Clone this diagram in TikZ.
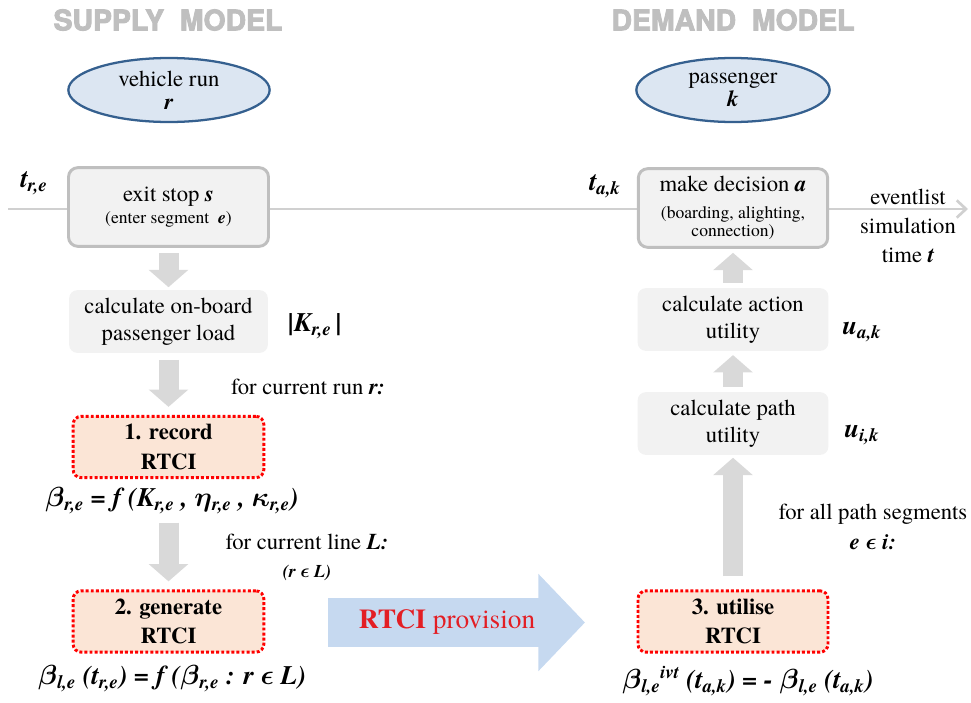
\documentclass[tikz,border=0pt]{standalone}
\usepackage{fontspec}
\setmainfont{texgyretermes-regular.otf}[
  BoldFont=texgyretermes-bold.otf,
  ItalicFont=texgyretermes-italic.otf,
  BoldItalicFont=texgyretermes-bolditalic.otf]
\newfontfamily\headfont{TeX Gyre Heros}[BoldFeatures={FakeBold=3}]
\usepackage{bm}
\usetikzlibrary{shapes,arrows.meta,positioning}

\definecolor{boxfill}{HTML}{F2F2F2}
\definecolor{boxedge}{HTML}{BFBFBF}
\definecolor{flowgrey}{HTML}{D9D9D9}
\definecolor{agentfill}{HTML}{DCE6F2}
\definecolor{agentedge}{HTML}{35608F}
\definecolor{rtcifill}{HTML}{FBE5D6}
\definecolor{provfill}{HTML}{C6D9F0}
\definecolor{headgrey}{HTML}{BFBFBF}
\definecolor{timegrey}{HTML}{D0D0D0}
\definecolor{provred}{HTML}{E31E24}

\newcommand{\bi}[1]{\textbf{\textit{#1}}}
\newcommand{\gk}[1]{$\bm{#1}$}
\newcommand{\smalltxt}{\fontsize{13.2}{15}\selectfont}
\newcommand{\elem}{$\bm{\epsilon}$}

\tikzset{
  header/.style={font=\headfont\bfseries\fontsize{21.3}{24}\selectfont,text=headgrey},
  agent/.style={ellipse,draw=agentedge,fill=agentfill,line width=1.7pt,
    minimum height=48pt,inner sep=0pt,align=center},
  event/.style={rectangle,rounded corners=7pt,draw=boxedge,line width=2.2pt,
    fill=boxfill,minimum height=59pt,align=center},
  calc/.style={rectangle,rounded corners=6pt,fill=boxfill,minimum height=47pt,align=center},
  rtci/.style={rectangle,rounded corners=6pt,draw=red,fill=rtcifill,line width=2.2pt,
    dash pattern=on 2.2pt off 1.6pt,minimum height=46pt,align=center,
    font=\bfseries\fontsize{17}{20}\selectfont},
  var/.style={font=\bfseries\itshape\fontsize{20}{24}\selectfont},
  formula/.style={font=\bfseries\itshape\fontsize{20}{24}\selectfont,inner sep=0pt},
  flow/.style={draw=flowgrey,line width=15pt,-{Triangle[width=29pt,length=13pt]}},
  timeline/.style={draw=timegrey,line width=2pt,-{Straight Barb[length=7pt,width=13pt]}},
  provision/.style={draw=provfill,line width=36.75pt,-{Triangle[width=71pt,length=35pt]}}
}

\begin{document}
\begin{tikzpicture}[x=0.75pt,y=-0.75pt,font=\fontsize{17}{20}\selectfont]
  \useasboundingbox (0,0) rectangle (971,703);

  % time axis behind the event boxes
  \coordinate (tstart) at (8,209);
  \coordinate (tend) at (968,209);
  \draw[timeline] (tstart) -- (tend);

  \node[header] (supply) at (168,20) {SUPPLY\ \ MODEL};
  \node[header] (demand) at (733,20) {DEMAND\ \ MODEL};

  \node[agent,minimum width=151pt] (run) at (169,90) {vehicle run\\[-3pt]\bi{r}};
  \node[agent,minimum width=145pt] (pass) at (733,90) {passenger\\[-3pt]\bi{k}};

  \node[event,minimum width=150pt] (exit) at (168.5,207)
    {exit stop \bi{s}\\[-4pt]{\smalltxt (enter segment\ \ \bi{e})}};
  \node[event,minimum width=142pt] (decide) at (733,208)
    {make decision \bi{a}\\[0pt]{\smalltxt (boarding, alighting,}\\[-6pt]{\smalltxt connection)}};
  \node[var] (tre) at (34,183) {t\textsubscript{r,e}};
  \node[var] (tak) at (605,186) {t\textsubscript{a,k}};
  \node[align=center] (clock) at (908,226) {eventlist\\[2pt]simulation\\[2pt]time \bi{t}};

  % supply side
  \node[calc,minimum width=149pt] (load) at (168.5,321.5) {calculate on-board\\passenger load};
  \node[var] (Kre) at (315,326) {|K\textsubscript{r,e}\,|};
  \node (runnote) at (308,387) {for current run \bi{r:}};
  \node[rtci,minimum width=143pt] (rec) at (168.5,447) {1. record\\[2pt]RTCI};
  \node[formula] (beta1) at (172,501)
    {\gk{\beta}\textsubscript{r,e} = f (K\textsubscript{r,e} , \gk{\eta}\textsubscript{r,e} , \gk{\kappa}\textsubscript{r,e})};
  \node[align=center] (linenote) at (307,557)
    {for current line \bi{L:}\\[1pt]{\fontsize{13.5}{15}\selectfont\bfseries\itshape (r \elem\ L)}};
  \node[rtci,minimum width=143pt] (gen) at (168.5,621.5) {2. generate\\[2pt]RTCI};
  \node[formula] (beta2) at (172,679)
    {\gk{\beta}\textsubscript{l,e} (t\textsubscript{r,e}) = f (\gk{\beta}\textsubscript{r,e} : r \elem\ L)};

  % demand side
  \node[calc,minimum width=143pt] (act) at (733,319.5) {calculate action\\utility};
  \node[var] (uak) at (862,332) {u\textsubscript{a,k}};
  \node[calc,minimum width=143pt] (path) at (733,423.5) {calculate path\\utility};
  \node[var] (uik) at (862,435) {u\textsubscript{i,k}};
  \node[align=center] (segnote) at (873,527) {for all path segments\\[2pt]\bi{e \elem\ i:}};
  \node[rtci,minimum width=142.5pt] (use) at (733,621.5) {3. utilise\\[2pt]RTCI};
  \node[formula] (beta3) at (748,681)
    {\gk{\beta}\textsubscript{l,e}\textsuperscript{ivt} (t\textsubscript{a,k}) = - \gk{\beta}\textsubscript{l,e} (t\textsubscript{a,k})};

  % RTCI handed over
  \coordinate (provL) at (328,622.5);
  \coordinate (provR) at (585,622.5);
  \draw[provision] (provL) -- (provR);
  \node[font=\fontsize{20.5}{24}\selectfont,text=provred] (prov) at (447,622) {\textbf{RTCI} provision};

  \draw[flow,shorten <=4pt,shorten >=2pt] (exit) -- (load);
  \draw[flow,shorten <=5pt,shorten >=6pt] (load) -- (rec);
  \draw[flow,shorten <=6pt,shorten >=6pt] (gen.north |- beta1.south) -- (gen.north);
  \draw[flow,shorten <=4pt,shorten >=3pt] (act) -- (decide);
  \draw[flow,shorten <=4pt,shorten >=3pt] (path) -- (act);
  \draw[flow,shorten <=10pt,shorten >=2pt] (use) -- (path);
\end{tikzpicture}
\end{document}
